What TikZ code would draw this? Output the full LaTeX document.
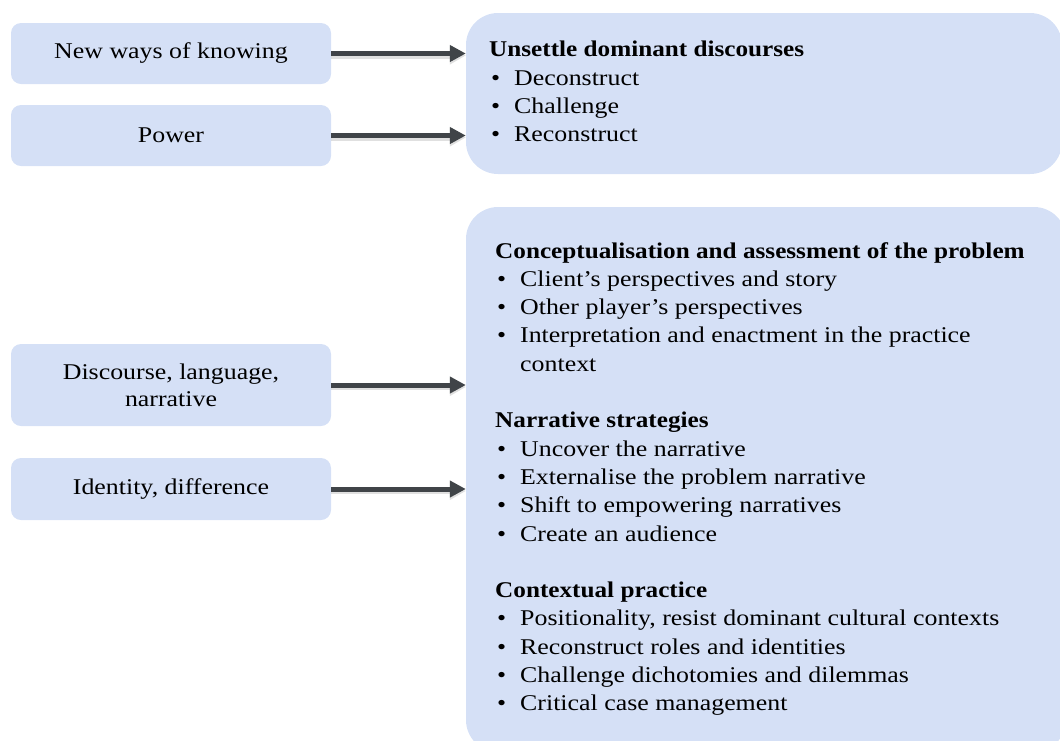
\documentclass[tikz,border=0pt]{standalone}
\usepackage{fontspec}
\setmainfont{Liberation Serif}[FakeStretch=1.15, BoldFeatures={FakeStretch=1.12}]
\usetikzlibrary{arrows.meta}
\definecolor{boxblue}{HTML}{D5E0F6}
\definecolor{arrgray}{HTML}{404448}
\newcommand{\bitem}[1]{\makebox[25pt][l]{\hspace{2pt}\textbullet}#1}
\newcommand{\bcont}[1]{\hspace*{25pt}#1}
\begin{document}
\begin{tikzpicture}[x=1pt,y=-1pt,
  leftbox/.style={fill=boxblue, rounded corners=10pt, minimum width=320pt, inner sep=0pt, align=center, font=\fontsize{22.5}{27}\selectfont},
  bigbox/.style={fill=boxblue, rounded corners=32pt, inner sep=0pt},
  listtext/.style={inner sep=0pt, align=left, anchor=north west, font=\fontsize{22.5}{28.3}\selectfont},
  arr/.style={draw=arrgray, line width=5pt, -{Triangle[length=16pt,width=16pt]}},
  arrshadow/.style={draw=black, opacity=0.12, line width=6pt, -{Triangle[length=16pt,width=17pt]}}
]
\useasboundingbox (0,0) rectangle (1060,740);
\clip (0,0) rectangle (1060,740);
% left boxes
\node[leftbox, minimum height=61pt] (b1) at (171,53.5) {New ways of knowing};
\node[leftbox, minimum height=61pt] (b2) at (171,135.5) {Power};
\node[leftbox, minimum height=82pt] (b3) at (171,385) {Discourse, language,\\narrative};
\node[leftbox, minimum height=62pt] (b4) at (171,489) {Identity, difference};
% right boxes
\node[bigbox, minimum width=596pt, minimum height=161pt] (top) at (764,93.5) {};
\node[bigbox, minimum width=600pt, minimum height=545pt] (bot) at (766,479.5) {};
% texts in right boxes
\node[listtext] (toptext) at (489,41) {%
\textbf{Unsettle dominant discourses}\\
\bitem{Deconstruct}\\
\bitem{Challenge}\\
\bitem{Reconstruct}};
\node[listtext] (bottext) at (495,242) {%
\textbf{Conceptualisation and assessment of the problem}\\
\bitem{Client’s perspectives and story}\\
\bitem{Other player’s perspectives}\\
\bitem{Interpretation and enactment in the practice}\\
\bcont{context}\\[28.3pt]
\textbf{Narrative strategies}\\
\bitem{Uncover the narrative}\\
\bitem{Externalise the problem narrative}\\
\bitem{Shift to empowering narratives}\\
\bitem{Create an audience}\\[28.3pt]
\textbf{Contextual practice}\\
\bitem{Positionality, resist dominant cultural contexts}\\
\bitem{Reconstruct roles and identities}\\
\bitem{Challenge dichotomies and dilemmas}\\
\bitem{Critical case management}};
% arrows
\foreach \s/\t in {b1/top, b2/top, b3/bot, b4/bot}{
  \draw[arrshadow, transform canvas={yshift=-2pt}] (\s.east) -- (\s.east -| \t.west);
  \draw[arr] (\s.east) -- (\s.east -| \t.west);
}
\end{tikzpicture}
\end{document}
